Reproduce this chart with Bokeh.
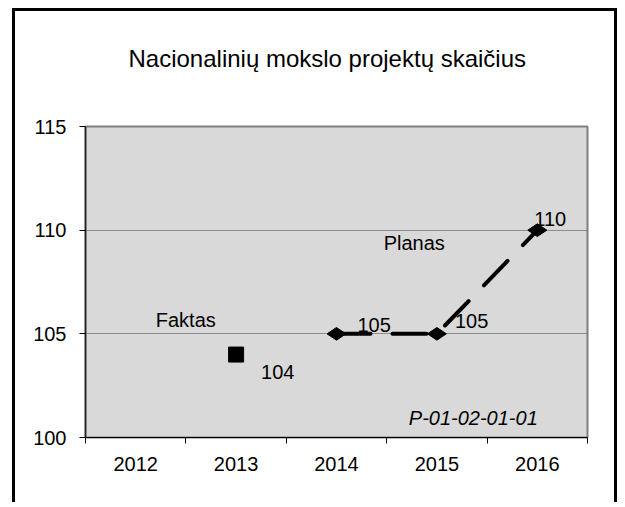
from bokeh.plotting import figure
from bokeh.models import Range1d, FixedTicker, Label, ColumnDataSource, Title
from bokeh.core.properties import value
from bokeh.embed import file_html
from bokeh.resources import INLINE

# ---- data ----
title_text = "Nacionalinių mokslo projektų skaičius"
years = [2012, 2013, 2014, 2015, 2016]
year_bounds = [2011.5, 2012.5, 2013.5, 2014.5, 2015.5, 2016.5]
y_ticks = [100, 105, 110, 115]

faktas_years = [2013]
faktas_values = [104]

planas_years = [2014, 2015, 2016]
planas_values = [105, 105, 110]

# label offsets (screen px)
faktas_dx = [25]
faktas_dy = [17]
planas_dx = [21, 18, -3]
planas_dy = [-9, -13, -11]

FONT = "Liberation Sans"
W, H = 599, 494

p = figure(width=W, height=H,
           x_range=Range1d(2011.5, 2016.5), y_range=Range1d(100, 115),
           output_backend="svg", toolbar_location=None,
           min_border_left=70, min_border_right=27,
           min_border_top=115, min_border_bottom=68)
# outer chart frame, open at the bottom (drawn as box shadows so layout is untouched)
p.styles = {"margin-left": "15px", "margin-top": "11px",
            "box-shadow": "-3px -3px 0 0 black, 3px -3px 0 0 black"}

p.background_fill_color = "#d9d9d9"
p.border_fill_color = "white"
p.outline_line_color = "#808080"
p.outline_line_width = 2

# spacer between the frame and the title (closest to the frame)
p.add_layout(Title(text=" ", text_font_size="1px", standoff=47), "above")

# title
p.title.text = title_text
p.title.text_font = FONT
p.title.text_font_size = "24px"
p.title.text_font_style = "normal"
p.title.text_color = "black"
p.title.align = "left"
p.title.offset = 43
p.title.standoff = 10

# x axis
xa = p.xaxis[0]
xa.ticker = FixedTicker(ticks=years, minor_ticks=year_bounds)
xa.major_tick_out = 0
xa.major_tick_in = 0
xa.minor_tick_out = 6
xa.minor_tick_in = 0
xa.minor_tick_line_color = "black"
xa.axis_line_color = "black"
xa.major_label_text_font = FONT
xa.major_label_text_font_size = "20px"
xa.major_label_text_color = "black"
xa.major_label_standoff = 13

# y axis
ya = p.yaxis[0]
ya.ticker = FixedTicker(ticks=y_ticks)
ya.major_tick_out = 6
ya.major_tick_in = 0
ya.minor_tick_line_color = None
ya.axis_line_color = "#222222"
ya.axis_line_width = 1.5
ya.major_tick_line_color = "black"
ya.major_label_text_font = FONT
ya.major_label_text_font_size = "20px"
ya.major_label_text_color = "black"
ya.major_label_standoff = 13

p.xgrid.grid_line_color = None
p.ygrid.grid_line_color = "#404040"
p.ygrid.grid_line_dash = "1 1"
p.ygrid.grid_line_width = 1

# series
fsrc = ColumnDataSource(dict(x=faktas_years, y=faktas_values,
                             t=[str(v) for v in faktas_values],
                             dx=faktas_dx, dy=faktas_dy))
psrc = ColumnDataSource(dict(x=planas_years, y=planas_values,
                             t=[str(v) for v in planas_values],
                             dx=planas_dx, dy=planas_dy))

p.scatter("x", "y", source=fsrc, marker="square", size=15,
          fill_color="black", line_color="black")

p.line("x", "y", source=psrc, line_color="black", line_width=4,
       line_dash="34 22", line_cap="round")
p.scatter("x", "y", source=psrc, marker="diamond", size=19, angle=1.5708,
          fill_color="black", line_color="black")

for src in (fsrc, psrc):
    p.text("x", "y", text="t", source=src, x_offset="dx", y_offset="dy",
           text_font=value(FONT), text_font_size="20px", text_color="black",
           text_baseline="alphabetic", text_align="left")

# annotation texts
for lx, ly, lt, st in [(2012.2, 105.68, "Faktas", "normal"),
                       (2014.47, 109.39, "Planas", "normal"),
                       (2014.72, 100.95, "P-01-02-01-01", "italic")]:
    p.add_layout(Label(x=lx, y=ly, text=lt, text_font=FONT,
                       text_font_size="20px", text_font_style=st,
                       text_color="black", text_baseline="alphabetic"))

open("out.html", "w").write(file_html(p, INLINE))
